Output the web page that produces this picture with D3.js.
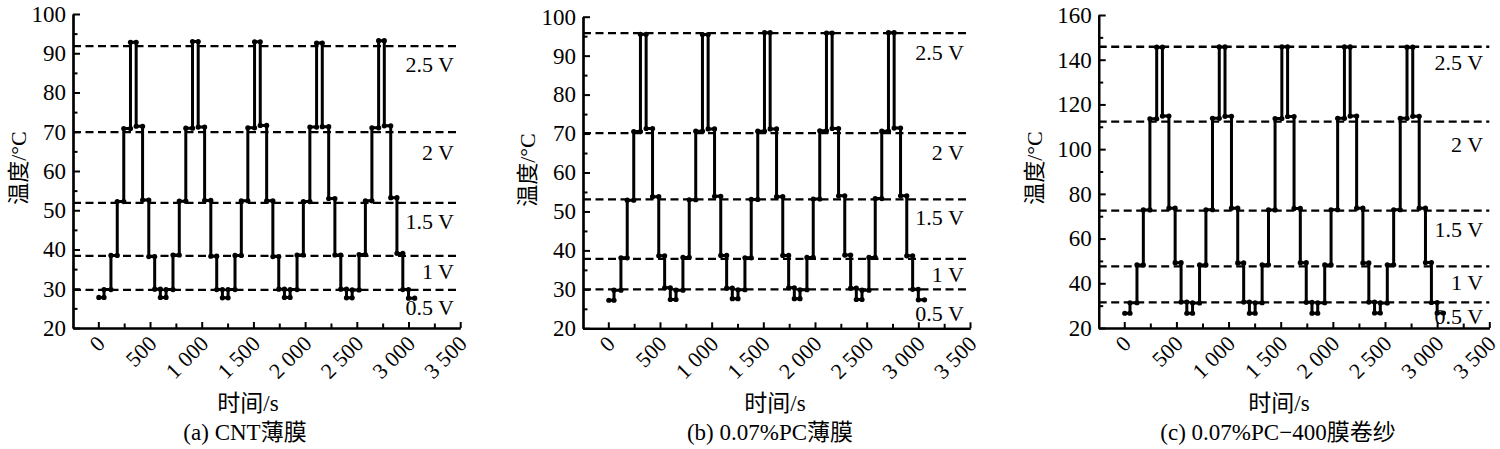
<!DOCTYPE html>
<html><head><meta charset="utf-8">
<script src="https://cdn.jsdelivr.net/npm/d3@7"></script>
<style>
body{margin:0;background:#fff}
text{font-family:"Liberation Serif","Times New Roman","Noto Sans CJK SC",serif;fill:#000}
</style>
</head><body>
<svg id="chart" width="1500" height="449"></svg>
<script>
// ---------------- DATA ----------------
const xTicks = [0, 500, 1000, 1500, 2000, 2500, 3000, 3500];
const xTickLabels = ["0", "500", "1 000", "1 500", "2 000", "2 500", "3 000", "3 500"];
const yTicksAB = [20, 30, 40, 50, 60, 70, 80, 90, 100];
const yTicksC = [20, 40, 60, 80, 100, 120, 140, 160];

// time (s) at which each temperature plateau starts
const stepTimes = [5,
  55, 122, 183, 246, 311, 366, 428, 488, 545, 600,
  655, 722, 783, 846, 911, 966, 1028, 1088, 1145, 1200,
  1255, 1322, 1383, 1446, 1511, 1566, 1628, 1688, 1745, 1800,
  1855, 1922, 1983, 2046, 2111, 2166, 2228, 2288, 2345, 2400,
  2455, 2522, 2583, 2646, 2711, 2766, 2828, 2888, 2945, 3000,
  3060];

// (a) CNT film temperatures (°C)
const tempA = [27.8,
  29.8, 38.5, 52.2, 70.8, 92.8, 71.4, 52.6, 38.2, 29.9, 27.8,
  29.8, 38.6, 52.3, 70.9, 93.0, 71.2, 52.5, 38.3, 29.8, 27.7,
  29.8, 38.5, 52.4, 71.0, 92.9, 71.6, 52.4, 38.2, 29.9, 27.8,
  29.8, 38.6, 52.2, 71.2, 92.6, 71.3, 53.0, 38.6, 29.9, 27.7,
  29.7, 38.7, 52.4, 71.0, 93.2, 71.5, 53.2, 39.0, 29.8, 27.6,
  27.6];

// (b) 0.07%PC film temperatures (°C)
const tempB = [27.2,
  29.8, 38.1, 52.9, 70.5, 95.5, 71.3, 53.8, 38.6, 30.4, 27.4,
  29.8, 38.2, 53.0, 70.6, 95.4, 71.2, 53.9, 38.7, 30.3, 27.6,
  29.9, 38.1, 53.1, 70.6, 95.9, 71.2, 53.8, 38.7, 30.4, 27.6,
  29.9, 38.2, 53.2, 70.7, 95.8, 71.3, 54.0, 38.8, 30.3, 27.4,
  29.8, 38.2, 53.3, 70.6, 95.9, 71.4, 54.0, 38.6, 30.0, 27.3,
  27.3];

// (c) 0.07%PC-400 film-wrapped yarn temperatures (°C)
const tempC = [26.6,
  31.3, 48.2, 72.8, 113.6, 145.6, 114.8, 73.6, 49.2, 31.6, 26.6,
  31.2, 48.2, 72.9, 113.8, 145.7, 114.7, 73.6, 49.1, 31.6, 26.6,
  31.3, 48.3, 72.8, 113.7, 145.8, 114.6, 73.5, 49.2, 31.5, 26.6,
  31.3, 48.2, 72.9, 113.8, 145.7, 114.8, 73.6, 49.1, 31.6, 26.7,
  31.2, 48.3, 72.9, 113.8, 145.6, 114.7, 73.6, 49.3, 31.4, 26.7,
  26.7];

// dashed reference levels (°C) for 2.5 V, 2 V, 1.5 V, 1 V, 0.5 V
const refA = [91.8, 69.9, 51.9, 38.4, 29.7];
const refB = [95.8, 70.1, 53.1, 37.8, 30.0];
const refC = [145.8, 112.3, 72.5, 47.6, 31.5];
const voltLabels = ["2.5 V", "2 V", "1.5 V", "1 V", "0.5 V"];

const captions = ["(a) CNT薄膜", "(b) 0.07%PC薄膜", "(c) 0.07%PC\u2212400膜卷纱"];
const xTitle = "时间/s";
const yTitle = "温度/°C";

// ---------------- LAYOUT ----------------
const panels = [
  {temps: tempA, refs: refA, yTicks: yTicksAB, yMinor: 5, yDom: [20, 100],
   left: 73, right: 460.2, top: 14, bottom: 328, yTitleX: 18, yTitleY: 168,
   xTitleX: 248, capX: 245, labelY: [85.1, 62.7, 45.1, 32.4, 23.2]},
  {temps: tempB, refs: refB, yTicks: yTicksAB, yMinor: 5, yDom: [20, 100],
   left: 583, right: 970, top: 16.7, bottom: 328.3, yTitleX: 527, yTitleY: 170,
   xTitleX: 775, capX: 770, labelY: [89.0, 63.1, 46.6, 31.8, 22.0]},
  {temps: tempC, refs: refC, yTicks: yTicksC, yMinor: 10, yDom: [20, 160],
   left: 1098.7, right: 1489.3, top: 15, bottom: 328, yTitleX: 1034, yTitleY: 168,
   xTitleX: 1279, capX: 1278, labelY: [135.2, 98.5, 60.5, 36.8, 21.6]}
];

const svg = d3.select("#chart");

panels.forEach((p, i) => {
  const x = d3.scaleLinear().domain([-245, 3500]).range([p.left, p.right]);
  const y = d3.scaleLinear().domain(p.yDom).range([p.bottom, p.top]);
  const g = svg.append("g");

  // dashed reference lines
  g.selectAll("line.ref").data(p.refs).join("line")
    .attr("class", "ref")
    .attr("x1", x(-245)).attr("x2", x(3500))
    .attr("y1", d => y(d)).attr("y2", d => y(d))
    .attr("stroke", "#000").attr("stroke-width", 2.3)
    .attr("stroke-dasharray", "8,4.5");

  // voltage labels
  g.selectAll("text.volt").data(voltLabels).join("text")
    .attr("class", "volt")
    .attr("x", x(3440)).attr("y", (d, k) => y(p.labelY[k]))
    .attr("text-anchor", "end").attr("font-size", 22)
    .text(d => d);

  // data
  const pts = stepTimes.map((t, k) => [t, p.temps[k]]);
  const line = d3.line().x(d => x(d[0])).y(d => y(d[1])).curve(d3.curveStepAfter);
  g.append("path").datum(pts)
    .attr("d", line).attr("fill", "none")
    .attr("stroke", "#000").attr("stroke-width", 3)
    .attr("stroke-linejoin", "round");
  // corner markers at each plateau start/end
  const corners = [];
  for (let k = 0; k < pts.length - 1; k++) {
    corners.push([pts[k][0], pts[k][1]]);
    corners.push([pts[k + 1][0], pts[k][1]]);
  }
  g.selectAll("circle").data(corners).join("circle")
    .attr("cx", d => x(d[0])).attr("cy", d => y(d[1])).attr("r", 2.6)
    .attr("fill", "#000");

  // axes
  const yAxis = d3.axisLeft(y).tickValues(p.yTicks).tickSize(-7).tickSizeOuter(0).tickPadding(7);
  const yMinorVals = d3.range(p.yDom[0], p.yDom[1] + 0.001, p.yMinor).filter(v => !p.yTicks.includes(v));
  const yAxisMinor = d3.axisLeft(y).tickValues(yMinorVals).tickSize(-4.5).tickSizeOuter(0).tickFormat("");
  const xAxis = d3.axisBottom(x).tickValues(xTicks).tickSize(-6).tickSizeOuter(0).tickFormat("");
  const xMinorVals = xTicks.slice(0, -1).map((v, k) => (v + xTicks[k + 1]) / 2);
  const xAxisMinor = d3.axisBottom(x).tickValues(xMinorVals).tickSize(-4.5).tickSizeOuter(0).tickFormat("");

  const ya = g.append("g").attr("transform", `translate(${p.left},0)`).call(yAxis);
  g.append("g").attr("transform", `translate(${p.left},0)`).call(yAxisMinor);
  g.append("g").attr("transform", `translate(0,${p.bottom})`).call(xAxis);
  g.append("g").attr("transform", `translate(0,${p.bottom})`).call(xAxisMinor);
  g.selectAll(".domain").attr("stroke", "#000").attr("stroke-width", 2.2);
  g.selectAll(".tick line").attr("stroke", "#000").attr("stroke-width", 2);
  ya.selectAll("text").attr("font-size", 23).attr("fill", "#000")
    .style("font-family", '"Liberation Serif",serif');

  // rotated x tick labels
  g.selectAll("text.xt").data(xTicks).join("text")
    .attr("class", "xt")
    .attr("text-anchor", "end").attr("font-size", 22)
    .attr("transform", d => `translate(${x(d) + 8},${p.bottom + 17}) rotate(-45)`)
    .text((d, k) => xTickLabels[k]);

  // titles
  g.append("text").attr("x", p.xTitleX).attr("y", 411)
    .attr("text-anchor", "middle").attr("font-size", 23).text(xTitle);
  g.append("text").attr("x", p.capX).attr("y", 440)
    .attr("text-anchor", "middle").attr("font-size", 23).text(captions[i]);
  g.append("text")
    .attr("transform", `translate(${p.yTitleX},${p.yTitleY}) rotate(-90)`)
    .attr("dy", "0.35em").attr("text-anchor", "middle").attr("font-size", 22)
    .text(yTitle);
});
</script>
</body></html>
